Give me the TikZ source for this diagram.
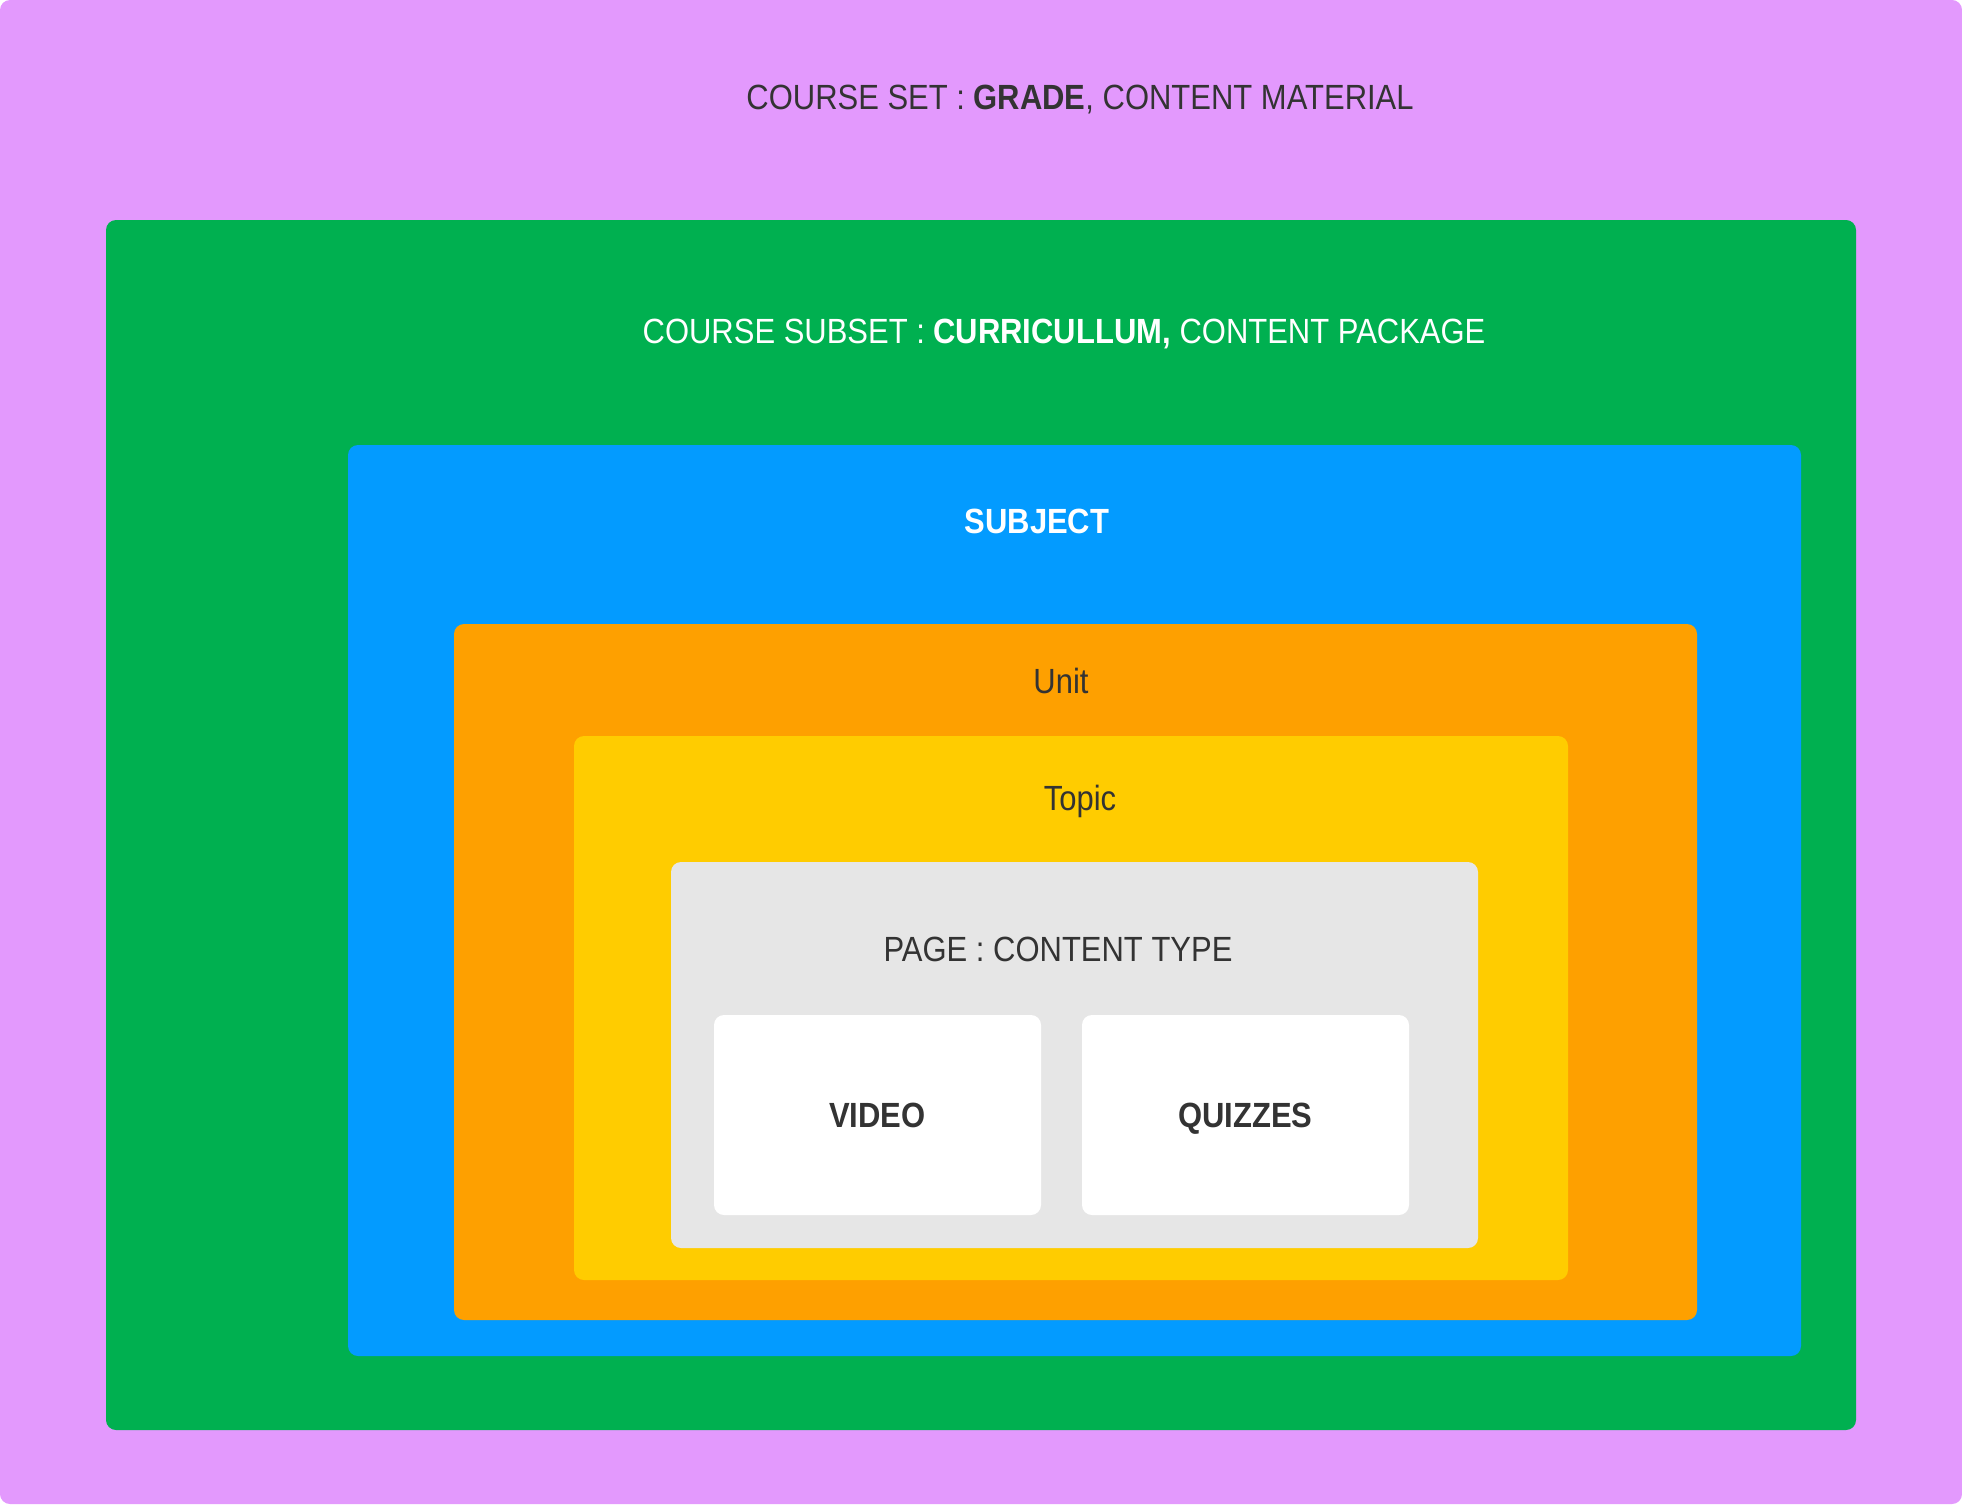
\documentclass[tikz,border=0pt]{standalone}
\usepackage{fontspec}
\setmainfont{Liberation Sans}[FakeStretch=0.885]
\definecolor{bgpurple}{HTML}{E399FD}
\definecolor{cgreen}{HTML}{00B050}
\definecolor{cblue}{HTML}{039BFF}
\definecolor{corange}{HTML}{FEA000}
\definecolor{cyellow}{HTML}{FFCC00}
\definecolor{cgrey}{HTML}{E6E6E6}
\definecolor{ctext}{HTML}{333333}
\tikzset{
  layer/.style={rounded corners=5pt},
  lbl/.style={font=\fontsize{17.5}{20}\selectfont, text=ctext, inner sep=0pt, text height=12.5pt, text depth=0pt},
  wlbl/.style={lbl, text=white},
  card/.style={fill=white, rounded corners=5pt, minimum width=163.5pt, minimum height=100pt, inner sep=0pt},
}
\begin{document}
\begin{tikzpicture}[x=0.5pt,y=-0.5pt]
\useasboundingbox (0,0) rectangle (1962,1504);
\fill[bgpurple, layer] (0,0) rectangle (1962,1504);
\fill[cgreen, layer] (106,220) rectangle (1856,1430);
\fill[cblue, layer] (348,445) rectangle (1801,1356);
\fill[corange, layer] (454,624) rectangle (1697,1320);
\fill[cyellow, layer] (574,736) rectangle (1568,1280);
\fill[cgrey, layer] (671,862) rectangle (1478,1248);
\node[card] (video) at (877.5,1115) {};
\node[card] (quiz) at (1245.5,1115) {};
\node[lbl] (set) at (1080,97) {COURSE SET : \textbf{GRADE}, CONTENT MATERIAL};
\node[wlbl] (subset) at (1064,331) {COURSE SUBSET : \textbf{CURRICULLUM,} CONTENT PACKAGE};
\node[wlbl, font=\fontsize{17.5}{20}\selectfont\bfseries] (subject) at (1037,521) {SUBJECT};
\node[lbl] (unit) at (1061,681) {Unit};
\node[lbl] (topic) at (1080,798) {Topic};
\node[lbl] (page) at (1058,949) {PAGE : CONTENT TYPE};
\node[lbl, font=\fontsize{17.5}{20}\selectfont\bfseries] (vlbl) at (video) {VIDEO};
\node[lbl, font=\fontsize{17.5}{20}\selectfont\bfseries] (qlbl) at (quiz) {QUIZZES};
\end{tikzpicture}
\end{document}
